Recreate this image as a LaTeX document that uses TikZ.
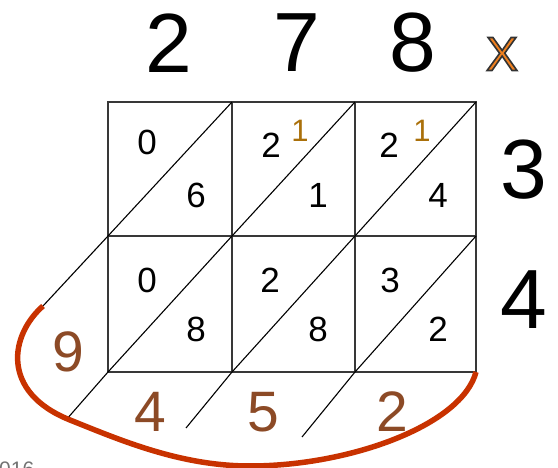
\documentclass[tikz,border=0pt]{standalone}
\usepackage{fontspec}
\setmainfont{Liberation Sans}
\usetikzlibrary{positioning,calc}
\definecolor{wrapred}{RGB}{200,50,0}
\definecolor{carrygold}{RGB}{170,112,10}
\definecolor{sumbrown}{RGB}{140,74,38}
\definecolor{crossorange}{RGB}{238,128,32}
\newcommand{\rimtext}[1]{\special{pdf:literal direct 2 Tr 1.6 w 0.2 0.2 0.2 RG}#1\special{pdf:literal direct 0 Tr}}
\tikzset{
  lattice/.style={draw=black!78, line width=1.6pt},
  diag/.style={draw=black, line width=1.1pt},
  factor/.style={inner sep=0pt, font=\fontsize{84}{84}\selectfont},
  partial/.style={inner sep=0pt, font=\fontsize{35}{35}\selectfont},
  carry/.style={inner sep=0pt, text=carrygold, font=\fontsize{31}{31}\selectfont},
  total/.style={inner sep=0pt, text=sumbrown, font=\fontsize{57}{57}\selectfont},
  wrap/.style={draw=wrapred, line width=5.5pt},
  times/.style={inner sep=0pt, text=crossorange, font=\fontsize{48}{48}\selectfont}
}

\begin{document}
\begin{tikzpicture}[x=1pt, y=-1pt]
    \useasboundingbox (0,0) rectangle (558,468);

    \coordinate (a0) at (108,102); \coordinate (a1) at (232,102);
    \coordinate (a2) at (355,102); \coordinate (a3) at (476,102);
    \coordinate (b0) at (108,236); \coordinate (b1) at (232,236);
    \coordinate (b2) at (355,236); \coordinate (b3) at (476,236);
    \coordinate (c0) at (108,372); \coordinate (c1) at (232,372);
    \coordinate (c2) at (355,372); \coordinate (c3) at (476,372);
    \coordinate (e1) at (43,306);  \coordinate (e2) at (66,420);
    \coordinate (e3) at (186,428); \coordinate (e4) at (302,437);

    \draw[lattice] (a0) rectangle (c3);
    \draw[lattice] (a1) -- (c1);
    \draw[lattice] (a2) -- (c2);
    \draw[lattice] (b0) -- (b3);

    \draw[diag] (e1) -- (b0) -- (a1);
    \draw[diag] (b1) -- (a2);
    \draw[diag] (b2) -- (a3);
    \draw[diag] (e2) -- (c0) -- (b1);
    \draw[diag] (e3) -- (c1) -- (b2);
    \draw[diag] (e4) -- (c2) -- (b3);

    \draw[wrap] (e1) .. controls (10,335) and (0,392) .. (70,420)
      .. controls (120,440) and (180,466) .. (250,466)
      .. controls (350,466) and (462,425) .. (c3);

    \node[factor] (f1) at (169,43) {2};
    \node[factor] (f2) at (297,43) {7};
    \node[factor] (f3) at (413,43) {8};
    \node[times] (x) at (502,54) {\rimtext{X}};
    \node[factor] (g1) at (524,170) {3};
    \node[factor] (g2) at (524,300) {4};

    \node[partial] (p11) at (147,142) {0};
    \node[partial] (q11) at (196,195) {6};
    \node[partial] (p12) at (271,145) {2};
    \node[carry] (k12) at (300,131) {1};
    \node[partial] (q12) at (318,195) {1};
    \node[partial] (p13) at (389,145) {2};
    \node[carry] (k13) at (422,131) {1};
    \node[partial] (q13) at (438,195) {4};

    \node[partial] (p21) at (147,280) {0};
    \node[partial] (q21) at (196,329) {8};
    \node[partial] (p22) at (270,280) {2};
    \node[partial] (q22) at (318,329) {8};
    \node[partial] (p23) at (390,280) {3};
    \node[partial] (q23) at (438,329) {2};

    \node[total] (s1) at (68,352) {9};
    \node[total] (s2) at (150,412) {4};
    \node[total] (s3) at (263,412) {5};
    \node[total] (s4) at (392,412) {2};

    \node[anchor=north west, inner sep=0pt, text=black!55,
      font=\fontsize{21}{21}\selectfont] (mark) at (-1,462) {016};
\end{tikzpicture}
\end{document}
